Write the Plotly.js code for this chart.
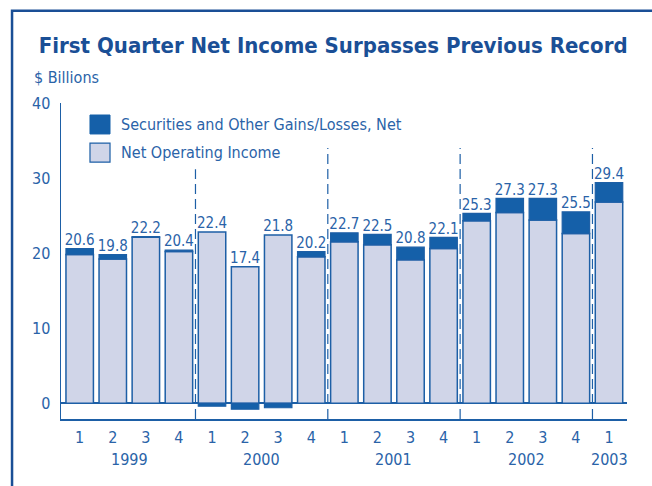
<!DOCTYPE html>
<html>
<head>
<meta charset="utf-8">
<script src="https://cdn.plot.ly/plotly-3.0.1.min.js"></script>
<style>html,body{margin:0;padding:0;background:#fff;}#chart{width:652px;height:486px;}</style>
</head>
<body>
<div id="chart"></div>
<script>
// ---- data ----
const quarters = ['1','2','3','4','1','2','3','4','1','2','3','4','1','2','3','4','1'];
const years    = ['1999','1999','1999','1999','2000','2000','2000','2000','2001','2001','2001','2001','2002','2002','2002','2002','2003'];
const yearLabels = ['1999','2000','2001','2002','2003'];
const netOperatingIncome = [19.8,19.2,22.1,20.2, 22.8,18.2,22.4,19.5, 21.5,21.1,19.1,20.6, 24.3,25.4,24.4,22.6, 26.8];
const securitiesGains    = [0.8,0.6,0.1,0.2, -0.4,-0.8,-0.6,0.7, 1.2,1.4,1.7,1.5, 1.0,1.9,2.9,2.9, 2.6];
const netIncomeLabels    = ['20.6','19.8','22.2','20.4','22.4','17.4','21.8','20.2','22.7','22.5','20.8','22.1','25.3','27.3','27.3','25.5','29.4'];
const seriesNames = ['Securities and Other Gains/Losses, Net','Net Operating Income'];
const yTicks = [0,10,20,30,40];

// ---- styling ----
const FONT = 'DejaVu Sans Condensed, DejaVu Sans, sans-serif';
const ST = 'condensed';
const TXT = '#2a63a8';
const DARK = '#1560a9';
const LIGHT = '#d0d5e8';
const EDGE = '#1d5fa6';
const TITLE = '#1a4f96';

const cats = years.map((y,i) => y + ' Q' + quarters[i]);
const idx = cats.map((c,i) => i);
const labelY = netOperatingIncome.map((v,i) => v + Math.max(securitiesGains[i],0));

const traces = [
  {type:'bar', x:cats, y:netOperatingIncome, name:seriesNames[1], showlegend:false,
   marker:{color:LIGHT, line:{color:EDGE, width:1.5}}, hoverinfo:'skip'},
  {type:'bar', x:cats, y:securitiesGains, name:seriesNames[0], showlegend:false,
   marker:{color:DARK, line:{color:EDGE, width:1.2}}, hoverinfo:'skip'},
  {type:'scatter', mode:'text', x:cats, y:labelY, text:netIncomeLabels, textposition:'top center',
   textfont:{family:FONT, stretch:ST, size:15, color:TXT}, showlegend:false, hoverinfo:'skip', cliponaxis:false}
];

// group boundaries (between years)
const shapes = [];
for (let i = 1; i < years.length; i++) {
  if (years[i] !== years[i-1]) {
    shapes.push({type:'line', xref:'x', yref:'y', x0:i-0.5, x1:i-0.5, y0:-2.1, y1:34,
      line:{color:EDGE, width:1.2, dash:'10px,5px'}, layer:'above'});
  }
}
// white backing for legend
shapes.push({type:'rect', xref:'paper', yref:'paper', x0:0.04, x1:0.385, y0:0.79, y1:0.975,
  fillcolor:'#ffffff', line:{width:0}, layer:'above'});
// legend swatches
shapes.push({type:'rect', xref:'paper', yref:'paper', x0:0.0512, x1:0.0866, y0:0.902, y1:0.962,
  fillcolor:DARK, line:{color:DARK, width:1}, layer:'above'});
shapes.push({type:'rect', xref:'paper', yref:'paper', x0:0.0512, x1:0.0866, y0:0.813, y1:0.873,
  fillcolor:LIGHT, line:{color:EDGE, width:1.2}, layer:'above'});
// outer frame
shapes.push({type:'rect', xref:'paper', yref:'paper', x0:-0.0865, x1:1.3, y0:-0.6, y1:1.292,
  fillcolor:'rgba(0,0,0,0)', line:{color:TITLE, width:2.5}, layer:'above'});

const annotations = [
  {xref:'paper', yref:'paper', x:0.1025, y:0.932, xanchor:'left', yanchor:'middle', showarrow:false,
   text:seriesNames[0], font:{family:FONT, stretch:ST, size:16, color:TXT}},
  {xref:'paper', yref:'paper', x:0.1025, y:0.843, xanchor:'left', yanchor:'middle', showarrow:false,
   text:seriesNames[1], font:{family:FONT, stretch:ST, size:16, color:TXT}},
  {xref:'paper', yref:'paper', x:-0.051, y:1.08, xanchor:'left', yanchor:'middle', showarrow:false,
   text:'$ Billions', font:{family:FONT, stretch:ST, size:16, color:TXT}}
];
yearLabels.forEach(yr => {
  const ii = idx.filter(i => years[i] === yr);
  const c = ii.reduce((a,b) => a + b, 0) / ii.length;
  annotations.push({xref:'x', yref:'paper', x:c, y:-0.127, xanchor:'center', yanchor:'middle',
    showarrow:false, text:yr, font:{family:FONT, stretch:ST, size:16, color:TXT}});
});

const layout = {
  width:652, height:486,
  margin:{l:61, r:25, t:103, b:67},
  paper_bgcolor:'#ffffff', plot_bgcolor:'#ffffff',
  barmode:'relative', bargap:0.17,
  title:{text:'<b>First Quarter Net Income Surpasses Previous Record</b>',
    font:{family:FONT, stretch:ST, size:22, color:TITLE}, x:0.511, xanchor:'center', y:0.907, yanchor:'middle'},
  xaxis:{type:'category', range:[-0.565,16.544], tickvals:cats, ticktext:quarters,
    showgrid:false, zeroline:false, showline:true, linecolor:EDGE, linewidth:1.5,
    ticks:'', ticklabelstandoff:3, tickfont:{family:FONT, stretch:ST, size:16, color:TXT}, fixedrange:true},
  yaxis:{range:[-2.1,40], tickvals:yTicks, showgrid:false, zeroline:true, zerolinecolor:EDGE, zerolinewidth:1.5,
    showline:true, linecolor:EDGE, linewidth:1.5, ticks:'', ticklabelstandoff:6,
    tickfont:{family:FONT, stretch:ST, size:16, color:TXT}, fixedrange:true},
  shapes:shapes, annotations:annotations, showlegend:false
};

Plotly.newPlot('chart', traces, layout, {displayModeBar:false, staticPlot:true});
</script>
</body>
</html>
